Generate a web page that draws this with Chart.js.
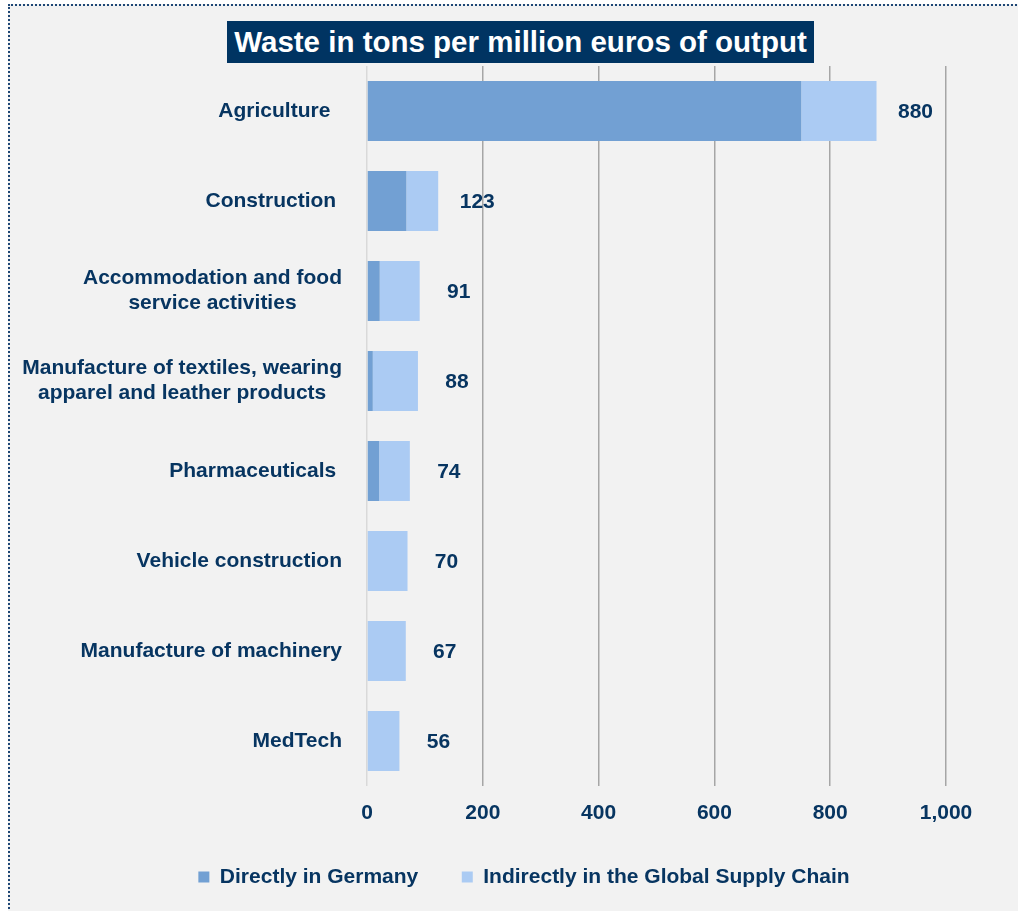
<!DOCTYPE html>
<html>
<head>
<meta charset="utf-8">
<script src="https://cdn.jsdelivr.net/npm/chart.js@4.4.0/dist/chart.umd.min.js"></script>
<style>
  html, body { margin: 0; padding: 0; background: #fff; overflow: hidden; width: 1018px; height: 911px; }
  #frame { position: absolute; left: 8px; top: 4px; width: 1100px; height: 1000px;
           background: #f2f2f2; border: 2px dotted #1d4675; }
  #title { position: absolute; left: 227px; top: 21px; width: 587px; height: 42px;
           background: #003462; color: #fff; font: bold 29.5px "Liberation Sans", Arial, sans-serif;
           line-height: 42px; text-align: center; white-space: nowrap; z-index: 2; }
  canvas { position: absolute; left: 0; top: 0; z-index: 1; }
</style>
</head>
<body>
<div id="frame"></div>
<canvas id="chart" width="1018" height="911"></canvas>
<div id="title">Waste in tons per million euros of output</div>

<script>
// --- data ---
const categories = [
  ['Agriculture  '],
  ['Construction '],
  ['Accommodation and food', 'service activities'],
  ['Manufacture of textiles, wearing', 'apparel and leather products'],
  ['Pharmaceuticals '],
  ['Vehicle construction'],
  ['Manufacture of machinery'],
  ['MedTech'],
];
const directGermany   = [750, 68, 22, 10, 21, 0, 0, 0];
const indirectSupply  = [130, 55, 69, 78, 53, 70, 67, 56];
const xTicks          = [0, 200, 400, 600, 800, 1000];

const TEXT = '#073561';
const FONT = { family: '"Liberation Sans", Arial, sans-serif', size: 21, weight: 'bold' };

// category labels: block right-aligned, lines centred inside the block
const categoryLabels = {
  id: 'categoryLabels',
  afterDraw(chart) {
    const { ctx } = chart;
    const y = chart.scales.y;
    ctx.save();
    ctx.font = `bold 21px ${FONT.family}`;
    ctx.fillStyle = TEXT;
    ctx.textAlign = 'center';
    ctx.textBaseline = 'middle';
    categories.forEach((lines, i) => {
      const w = Math.max(...lines.map(l => ctx.measureText(l).width));
      const cx = 342 - w / 2;
      const cy = y.getPixelForValue(i);
      lines.forEach((l, j) => {
        ctx.fillText(l, cx, cy + (j - (lines.length - 1) / 2) * 25);
      });
    });
    ctx.restore();
  }
};

// totals to the right of each stacked bar
const totalLabels = {
  id: 'totalLabels',
  afterDatasetsDraw(chart) {
    const { ctx } = chart;
    const x = chart.scales.x;
    const meta = chart.getDatasetMeta(1);
    ctx.save();
    ctx.font = `bold 21px ${FONT.family}`;
    ctx.fillStyle = TEXT;
    ctx.textAlign = 'center';
    ctx.textBaseline = 'middle';
    meta.data.forEach((bar, i) => {
      const total = directGermany[i] + indirectSupply[i];
      ctx.fillText(total.toLocaleString('en-US'), x.getPixelForValue(total) + 39, bar.y + 1);
    });
    ctx.restore();
  }
};

new Chart(document.getElementById('chart'), {
  type: 'bar',
  data: {
    labels: categories,
    datasets: [
      { label: 'Directly in Germany', data: directGermany, backgroundColor: '#72a0d3',
        borderWidth: 0, barPercentage: 0.667, categoryPercentage: 1 },
      { label: 'Indirectly in the Global Supply Chain', data: indirectSupply, backgroundColor: '#abcbf3',
        borderWidth: 0, barPercentage: 0.667, categoryPercentage: 1 },
    ],
  },
  options: {
    indexAxis: 'y',
    responsive: false,
    animation: false,
    layout: { padding: { top: 66, left: 30, right: 0, bottom: 13.5 } },
    plugins: {
      legend: {
        position: 'bottom',
        labels: { font: FONT, color: TEXT, boxWidth: 11, boxHeight: 11, padding: 43.5 },
      },
      tooltip: { enabled: false },
    },
    scales: {
      x: {
        stacked: true,
        min: 0,
        max: 1000,
        afterBuildTicks: s => { s.ticks = xTicks.map(v => ({ value: v })); },
        afterFit: s => { s.height = 37; },
        grid: {
          color: c => (c.tick && c.tick.value === 0 ? '#d9d9d9' : '#a6a6a6'),
          lineWidth: 1.5,
          drawTicks: false,
        },
        border: { display: false },
        ticks: { font: FONT, color: TEXT, padding: 15, callback: v => v.toLocaleString('en-US') },
      },
      y: {
        stacked: true,
        afterFit: s => { s.width = 337; },
        grid: { display: false },
        border: { display: false },
        ticks: { display: false },
      },
      yRight: {
        type: 'linear',
        position: 'right',
        afterFit: s => { s.width = 72; },
        grid: { display: false },
        border: { display: false },
        ticks: { display: false },
      },
    },
  },
  plugins: [categoryLabels, totalLabels],
});
</script>
</body>
</html>
